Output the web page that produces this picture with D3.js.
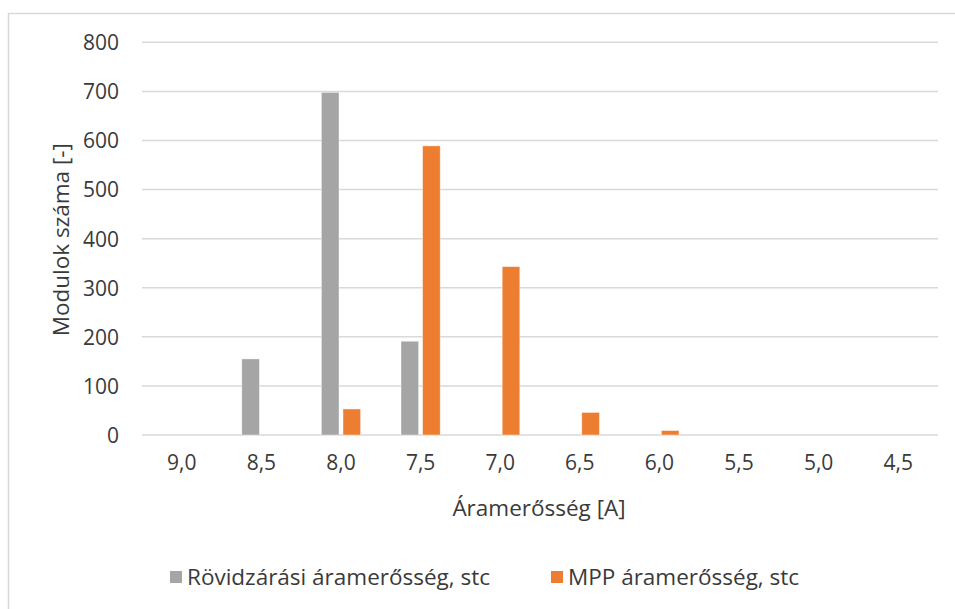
<!DOCTYPE html>
<html>
<head>
<meta charset="utf-8">
<script src="https://cdn.jsdelivr.net/npm/d3@7"></script>
<style>
  html, body { margin: 0; padding: 0; background: #fff; }
  svg { display: block; }
  text { font-family: "Open Sans", "Noto Sans", sans-serif; fill: #3a3a3a; }
</style>
</head>
<body>
<svg id="chart" width="955" height="609"></svg>
<script>
// Current-value classes (A), as printed on the x axis
const categories = ["9,0", "8,5", "8,0", "7,5", "7,0", "6,5", "6,0", "5,5", "5,0", "4,5"];
// Number of modules per class
const shortCircuit = [0, 155, 698, 191, 0, 0, 0, 0, 0, 0];
const mppCurrent   = [0, 0, 53, 589, 343, 46, 9, 0, 0, 0];
const seriesNames = ["Rövidzárási áramerősség, stc", "MPP áramerősség, stc"];
const seriesColors = ["#a5a5a5", "#ed7d31"];
const yTicks = [0, 100, 200, 300, 400, 500, 600, 700, 800];

const svg = d3.select("#chart");
const W = 955, H = 609;

// outer chart frame
svg.append("rect")
  .attr("x", 8.5).attr("y", 13.5)
  .attr("width", W + 10).attr("height", H + 10)
  .attr("fill", "#fff").attr("stroke", "#d9d9d9").attr("stroke-width", 1.5);

const plot = { left: 142, right: 938, top: 42.3, bottom: 435 };

const x0 = d3.scaleBand().domain(categories).range([plot.left, plot.right]).padding(0);
const x1 = d3.scaleBand().domain(seriesNames).range([0, x0.bandwidth()])
  .paddingInner(0.185).paddingOuter(0.935);
const y = d3.scaleLinear().domain([0, 800]).range([plot.bottom, plot.top]);

// horizontal gridlines
svg.append("g").selectAll("line").data(yTicks).join("line")
  .attr("x1", plot.left).attr("x2", plot.right)
  .attr("y1", d => y(d)).attr("y2", d => y(d))
  .attr("stroke", "#d9d9d9").attr("stroke-width", 1.5);

// y axis labels
const yAxis = d3.axisLeft(y).tickValues(yTicks).tickSize(0).tickPadding(0);
const gy = svg.append("g").attr("transform", `translate(${plot.left - 23},0)`).call(yAxis);
gy.select(".domain").remove();
gy.selectAll("text").style("font-size", "21px").attr("fill", "#3a3a3a")
  .style("font-family", "'Open Sans', sans-serif").attr("dy", "0.35em");

// bars
const table = categories.map((c, i) => ({ cat: c, values: [shortCircuit[i], mppCurrent[i]] }));
const groups = svg.append("g").selectAll("g").data(table).join("g")
  .attr("transform", d => `translate(${x0(d.cat)},0)`);
groups.selectAll("rect")
  .data(d => d.values.map((v, k) => ({ name: seriesNames[k], v, k })).filter(e => e.v > 0))
  .join("rect")
  .attr("x", d => x1(d.name))
  .attr("width", x1.bandwidth())
  .attr("y", d => y(d.v))
  .attr("height", d => y(0) - y(d.v))
  .attr("fill", d => seriesColors[d.k])
  .attr("stroke", "#fff").attr("stroke-opacity", 0.5).attr("stroke-width", 0.8);

// x axis labels
const xAxis = d3.axisBottom(x0).tickSize(0).tickPadding(0);
const gx = svg.append("g").attr("transform", `translate(0,${plot.bottom + 20})`).call(xAxis);
gx.select(".domain").remove();
gx.selectAll("text").style("font-size", "21px").attr("fill", "#3a3a3a")
  .style("font-family", "'Open Sans', sans-serif").attr("dy", "0.71em");

// axis titles
svg.append("text")
  .attr("x", 539).attr("y", 516)
  .attr("text-anchor", "middle")
  .style("font-size", "22.5px")
  .text("Áramerősség [A]");

svg.append("text")
  .attr("transform", `translate(69,${(plot.top + plot.bottom) / 2 + 1}) rotate(-90)`)
  .attr("text-anchor", "middle")
  .style("font-size", "22.5px")
  .text("Modulok száma [-]");

// legend
const legendX = [170, 551];
const legend = svg.append("g").selectAll("g").data(seriesNames).join("g")
  .attr("transform", (d, i) => `translate(${legendX[i]},577)`);
legend.append("rect")
  .attr("x", 0).attr("y", -6).attr("width", 12).attr("height", 12)
  .attr("fill", (d, i) => seriesColors[i]);
legend.append("text")
  .attr("x", 17).attr("y", 0).attr("dy", "0.35em")
  .style("font-size", "22.5px")
  .text(d => d);
</script>
</body>
</html>
